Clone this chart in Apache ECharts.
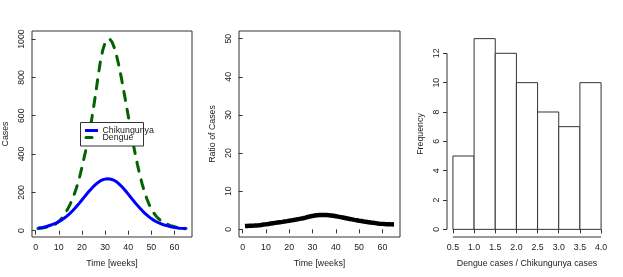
<!DOCTYPE html>
<html><head><meta charset="utf-8">
<script src="https://cdn.jsdelivr.net/npm/echarts@6/dist/echarts.min.js"></script>
<style>html,body{margin:0;padding:0;background:#fff}#c{width:623px;height:277px}</style>
</head><body><div id="c"></div>
<script>
// ---------- data ----------
const weeks = [1,2,3,4,5,6,7,8,9,10,11,12,13,14,15,16,17,18,19,20,21,22,23,24,25,26,27,28,29,30,31,32,33,34,35,36,37,38,39,40,41,42,43,44,45,46,47,48,49,50,51,52,53,54,55,56,57,58,59,60,61,62,63,64,65];
const chikungunya = [13,15,17,20,23,27,31,36,41,47,
  54,62,71,81,92,104,117,131,145,160,
  175,190,204,218,231,242,252,260,266,269,
  271,270,267,262,255,244,233,220,206,191,
  176,161,146,132,118,105,93,82,72,63,
  55,48,42,37,32,28,25,22,19,17,
  15,13,12,11,10];
const dengue = [11,12,14,16,19,22,26,31,38,48,
  60,76,95,116,140,168,200,237,280,330,
  384,437,497,565,640,720,805,885,942,980,
  998,1000,985,955,912,860,800,735,668,600,
  532,465,402,345,292,245,203,168,138,113,
  93,77,64,53,45,38,33,28,24,21,
  18,16,14,13,12];
const ratio = [0.86,0.90,0.93,0.96,0.99,1.04,1.10,1.17,1.25,1.33,
  1.42,1.52,1.61,1.70,1.79,1.88,1.97,2.07,2.16,2.26,
  2.36,2.46,2.57,2.69,2.81,2.93,3.07,3.23,3.39,3.53,
  3.62,3.69,3.74,3.77,3.78,3.76,3.71,3.64,3.55,3.45,
  3.34,3.22,3.10,2.98,2.86,2.74,2.62,2.49,2.38,2.27,
  2.17,2.07,1.98,1.89,1.80,1.72,1.64,1.56,1.49,1.44,
  1.40,1.37,1.34,1.31,1.29];
const histBreaks = [0.5,1.0,1.5,2.0,2.5,3.0,3.5,4.0];
const histCounts = [5,13,12,10,8,7,10];
const weekTicks = [0,10,20,30,40,50,60];
const casesTicks = [0,200,400,600,800,1000];
const ratioTicks = [0,10,20,30,40,50];
const freqTicks = [0,2,4,6,8,10,12];
const binTicks = [0.5,1.0,1.5,2.0,2.5,3.0,3.5,4.0];

// ---------- styling ----------
const FONT = 'Liberation Sans, Arial, Helvetica, sans-serif';
const FS = 8.8;
const TXT = '#222';
const LINE = '#333';

function axis(gridIndex, min, max, ticks, name, nameGap, isY, fmt) {
  return {
    type: 'value', gridIndex, min, max,
    name, nameLocation: 'middle', nameGap,
    nameTextStyle: {fontFamily: FONT, fontSize: FS, color: TXT},
    axisLine: {show: false},
    splitLine: {show: false},
    axisTick: {show: true, length: 4, customValues: ticks, lineStyle: {color: LINE, width: 1}},
    axisLabel: {show: true, customValues: ticks, margin: 6, rotate: isY ? 90 : 0,
      fontFamily: FONT, fontSize: FS, color: TXT,
      formatter: fmt || (v => String(v))}
  };
}

const chart = echarts.init(document.getElementById('c'), null, {renderer: 'canvas'});
const histXMin = 0.36, histYMin = -0.52;

chart.setOption({
  animation: false,
  backgroundColor: '#fff',
  grid: [
    {left: 32, top: 31, width: 160, height: 206, show: true, borderColor: LINE, borderWidth: 1, backgroundColor: 'transparent'},
    {left: 239, top: 31, width: 161, height: 206, show: true, borderColor: LINE, borderWidth: 1, backgroundColor: 'transparent'},
    {left: 447, top: 31, width: 160, height: 206, show: false}
  ],
  xAxis: [
    axis(0, -1.56, 67.56, weekTicks, 'Time [weeks]', 22, false),
    axis(1, -1.56, 67.56, weekTicks, 'Time [weeks]', 22, false),
    axis(2, histXMin, 4.14, binTicks, 'Dengue cases / Chikungunya cases', 22, false, v => v.toFixed(1))
  ],
  yAxis: [
    axis(0, -33, 1042, casesTicks, 'Cases', 22, true),
    axis(1, -2, 52, ratioTicks, 'Ratio of Cases', 22, true),
    axis(2, histYMin, 13.52, freqTicks, 'Frequency', 22, true)
  ],
  series: [
    {type: 'line', name: 'Chikungunya', xAxisIndex: 0, yAxisIndex: 0, showSymbol: false, symbol: 'none',
     data: weeks.map((w, i) => [w, chikungunya[i]]),
     lineStyle: {color: '#0000ff', width: 3}, z: 3},
    {type: 'line', name: 'Dengue', xAxisIndex: 0, yAxisIndex: 0, showSymbol: false, symbol: 'none',
     data: weeks.map((w, i) => [w, dengue[i]]),
     lineStyle: {color: '#006400', width: 3, type: [9, 9], cap: 'round'}, z: 2},
    {type: 'line', name: 'Ratio', xAxisIndex: 1, yAxisIndex: 1, showSymbol: false, symbol: 'none',
     data: weeks.map((w, i) => [w, ratio[i]]),
     lineStyle: {color: '#000', width: 4.5}},
    {type: 'custom', name: 'Histogram', xAxisIndex: 2, yAxisIndex: 2,
     data: histCounts.map((c, i) => [histBreaks[i], histBreaks[i + 1], c]),
     encode: {x: [0, 1], y: 2},
     renderItem: function (params, api) {
       const p0 = api.coord([api.value(0), api.value(2)]);
       const p1 = api.coord([api.value(1), 0]);
       return {type: 'rect', shape: {x: p0[0], y: p0[1], width: p1[0] - p0[0], height: p1[1] - p0[1]},
               style: {fill: '#fff', stroke: LINE, lineWidth: 1}};
     }},
    {type: 'custom', name: 'HistAxes', xAxisIndex: 2, yAxisIndex: 2, silent: true,
     data: [[histBreaks[0], freqTicks[0]]],
     renderItem: function (params, api) {
       const a = api.coord([binTicks[0], histYMin]);
       const b = api.coord([binTicks[binTicks.length - 1], histYMin]);
       const c = api.coord([histXMin, freqTicks[0]]);
       const d = api.coord([histXMin, freqTicks[freqTicks.length - 1]]);
       return {type: 'group', children: [
         {type: 'line', shape: {x1: a[0], y1: a[1], x2: b[0], y2: b[1]}, style: {stroke: LINE, lineWidth: 1}},
         {type: 'line', shape: {x1: c[0], y1: c[1], x2: d[0], y2: d[1]}, style: {stroke: LINE, lineWidth: 1}}
       ]};
     }}
  ],
  graphic: [
    {type: 'rect', z: 100, shape: {x: 80.5, y: 122.5, width: 63, height: 23.5},
     style: {fill: '#fff', stroke: LINE, lineWidth: 1}},
    {type: 'line', z: 101, shape: {x1: 85, y1: 130.5, x2: 98, y2: 130.5},
     style: {stroke: '#0000ff', lineWidth: 3}},
    {type: 'line', z: 101, shape: {x1: 86, y1: 137.5, x2: 98, y2: 137.5},
     style: {stroke: '#006400', lineWidth: 3, lineDash: [6, 6], lineCap: 'round'}},
    {type: 'text', z: 101, style: {text: 'Chikungunya', x: 102.5, y: 130.5, verticalAlign: 'middle',
      fontFamily: FONT, fontSize: FS, fill: TXT}},
    {type: 'text', z: 101, style: {text: 'Dengue', x: 102.5, y: 138, verticalAlign: 'middle',
      fontFamily: FONT, fontSize: FS, fill: TXT}}
  ]
});
</script></body></html>
